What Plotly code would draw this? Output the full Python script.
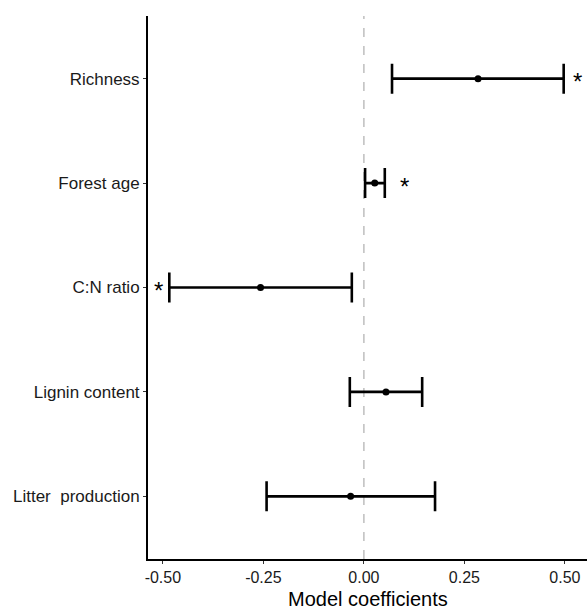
import plotly.graph_objects as go

predictors = ["Richness", "Forest age", "C:N ratio", "Lignin content", "Litter  production"]
estimate = [0.284, 0.027, -0.257, 0.055, -0.033]
ci_low = [0.070, 0.003, -0.484, -0.035, -0.242]
ci_high = [0.497, 0.052, -0.030, 0.145, 0.177]
star_x = [0.532, 0.100, -0.512, None, None]
star_label = ["*", "*", "*", "", ""]
tick_vals = [-0.50, -0.25, 0.00, 0.25, 0.50]
tick_text = ["-0.50", "-0.25", "0.00", "0.25", "0.50"]
x_title = "Model coefficients"

fig = go.Figure()
fig.add_trace(go.Scatter(
    x=estimate, y=predictors, mode="markers",
    marker=dict(color="black", size=7),
    error_x=dict(type="data", symmetric=False,
                 array=[h - e for h, e in zip(ci_high, estimate)],
                 arrayminus=[e - l for e, l in zip(estimate, ci_low)],
                 color="black", thickness=2.6, width=15),
    showlegend=False, cliponaxis=False,
))

for p, sx, s in zip(predictors, star_x, star_label):
    if sx is not None and s:
        fig.add_annotation(x=sx, y=p, text=s, showarrow=False,
                           font=dict(family="Liberation Sans", size=24, color="black"),
                           yshift=-3)

fig.add_annotation(x=0.5, xref="paper", y=0, yref="paper", yshift=-52,
                   text=x_title, showarrow=False, xanchor="center", yanchor="bottom",
                   borderpad=0,
                   font=dict(family="Liberation Sans", size=20, color="black"))

fig.add_shape(type="line", x0=0, x1=0, xref="x", y0=0, y1=1, yref="paper",
              line=dict(color="#BEBEBE", width=1.5, dash="dash"), layer="below")

fig.update_layout(
    width=587, height=611,
    margin=dict(l=148, r=0, t=16, b=52),
    plot_bgcolor="white", paper_bgcolor="white",
    font=dict(family="Liberation Sans", color="black"),
)
fig.update_xaxes(
    range=[-0.537, 0.555], tickvals=tick_vals, ticktext=tick_text,
    showgrid=False, zeroline=False,
    showline=True, linecolor="black", linewidth=2,
    ticks="outside", ticklen=3, tickcolor="#333333",
    tickfont=dict(size=16, color="#1a1a1a"),
)
fig.update_yaxes(
    type="category", categoryorder="array", categoryarray=predictors[::-1],
    range=[-0.6, 4.6],
    showgrid=False, zeroline=False,
    showline=True, linecolor="black", linewidth=2,
    ticks="outside", ticklen=3, tickcolor="#333333",
    tickfont=dict(size=17, color="#1a1a1a"),
)

fig.write_html("out.html", config={"displayModeBar": False})

with open("out.html", "r", encoding="utf-8") as f:
    html = f.read()
html = html.replace("<head>", "<head><style>html,body{margin:0;padding:0;overflow:hidden;}</style>", 1)
with open("out.html", "w", encoding="utf-8") as f:
    f.write(html)
